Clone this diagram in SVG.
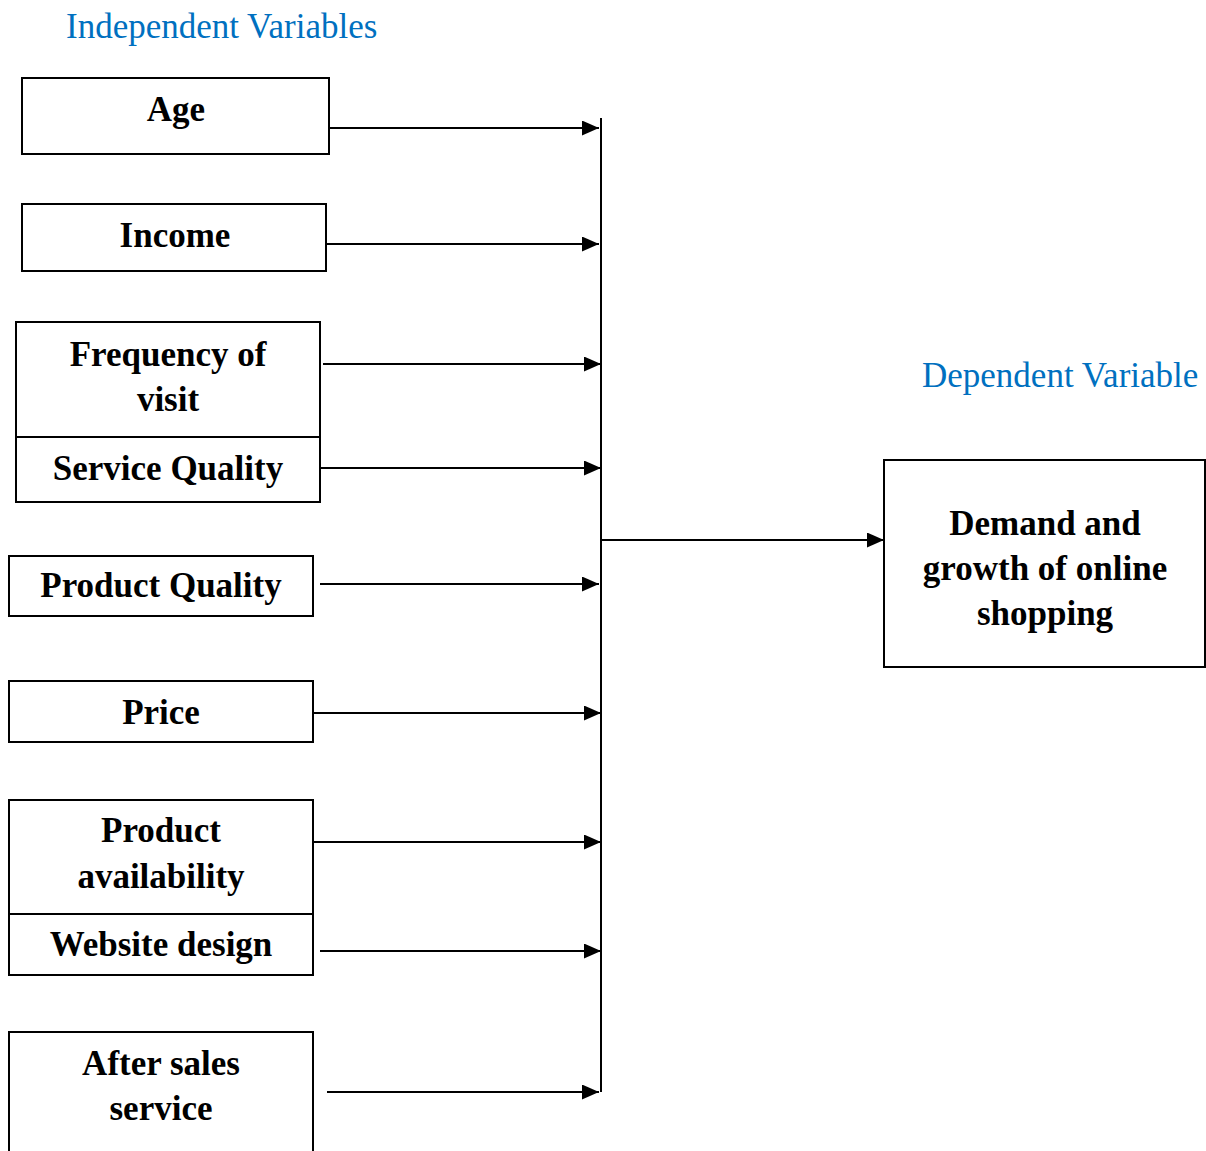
<svg xmlns="http://www.w3.org/2000/svg" width="1206" height="1151" viewBox="0 0 1206 1151">
<style>
.box{fill:#fff;stroke:#000;stroke-width:2}
.lbl{font-family:"Liberation Serif","Times New Roman",serif;font-weight:bold;font-size:35px;fill:#000;text-anchor:middle}
.ttl{font-family:"Liberation Serif","Times New Roman",serif;font-size:35px;fill:#0070C0}
.con{stroke:#000;stroke-width:2;fill:none}
</style>
<defs>
<marker id="ah" markerUnits="userSpaceOnUse" markerWidth="17" markerHeight="15" refX="17" refY="7.5" orient="auto">
<path d="M0,0 L17,7.5 L0,15 Z" fill="#000"/>
</marker>
</defs>
<rect width="1206" height="1151" fill="#fff"/>
<text class="ttl" x="66" y="38">Independent Variables</text>
<text class="ttl" x="922" y="387">Dependent Variable</text>

<g id="age"><rect class="box" x="22" y="78" width="307" height="76"/><text class="lbl" x="176" y="121">Age</text></g>
<g id="income"><rect class="box" x="22" y="204" width="304" height="67"/><text class="lbl" x="175" y="247">Income</text></g>
<g id="frequency"><rect class="box" x="16" y="322" width="304" height="115"/><text class="lbl" x="168" y="366">Frequency of</text><text class="lbl" x="168" y="411">visit</text></g>
<g id="service"><rect class="box" x="16" y="437" width="304" height="65"/><text class="lbl" x="168" y="480">Service Quality</text></g>
<g id="productquality"><rect class="box" x="9" y="556" width="304" height="60"/><text class="lbl" x="161" y="597">Product Quality</text></g>
<g id="price"><rect class="box" x="9" y="681" width="304" height="61"/><text class="lbl" x="161" y="724">Price</text></g>
<g id="availability"><rect class="box" x="9" y="800" width="304" height="114"/><text class="lbl" x="161" y="842">Product</text><text class="lbl" x="161" y="888">availability</text></g>
<g id="website"><rect class="box" x="9" y="914" width="304" height="61"/><text class="lbl" x="161" y="956">Website design</text></g>
<g id="aftersales"><rect class="box" x="9" y="1032" width="304" height="130"/><text class="lbl" x="161" y="1075">After sales</text><text class="lbl" x="161" y="1120">service</text></g>
<g id="demand"><rect class="box" x="884" y="460" width="321" height="207"/><text class="lbl" x="1045" y="535">Demand and</text><text class="lbl" x="1045" y="580">growth of online</text><text class="lbl" x="1045" y="625">shopping</text></g>

<g id="connectors">
<line class="con" x1="601" y1="118" x2="601" y2="1092"/>
<line class="con" x1="329" y1="128" x2="599" y2="128" marker-end="url(#ah)"/>
<line class="con" x1="326" y1="244" x2="599" y2="244" marker-end="url(#ah)"/>
<line class="con" x1="323" y1="364" x2="601" y2="364" marker-end="url(#ah)"/>
<line class="con" x1="320" y1="468" x2="601" y2="468" marker-end="url(#ah)"/>
<line class="con" x1="320" y1="584" x2="599" y2="584" marker-end="url(#ah)"/>
<line class="con" x1="313" y1="713" x2="601" y2="713" marker-end="url(#ah)"/>
<line class="con" x1="313" y1="842" x2="601" y2="842" marker-end="url(#ah)"/>
<line class="con" x1="320" y1="951" x2="601" y2="951" marker-end="url(#ah)"/>
<line class="con" x1="327" y1="1092" x2="599" y2="1092" marker-end="url(#ah)"/>
<line class="con" x1="601" y1="540" x2="884" y2="540" marker-end="url(#ah)"/>
</g>
</svg>
